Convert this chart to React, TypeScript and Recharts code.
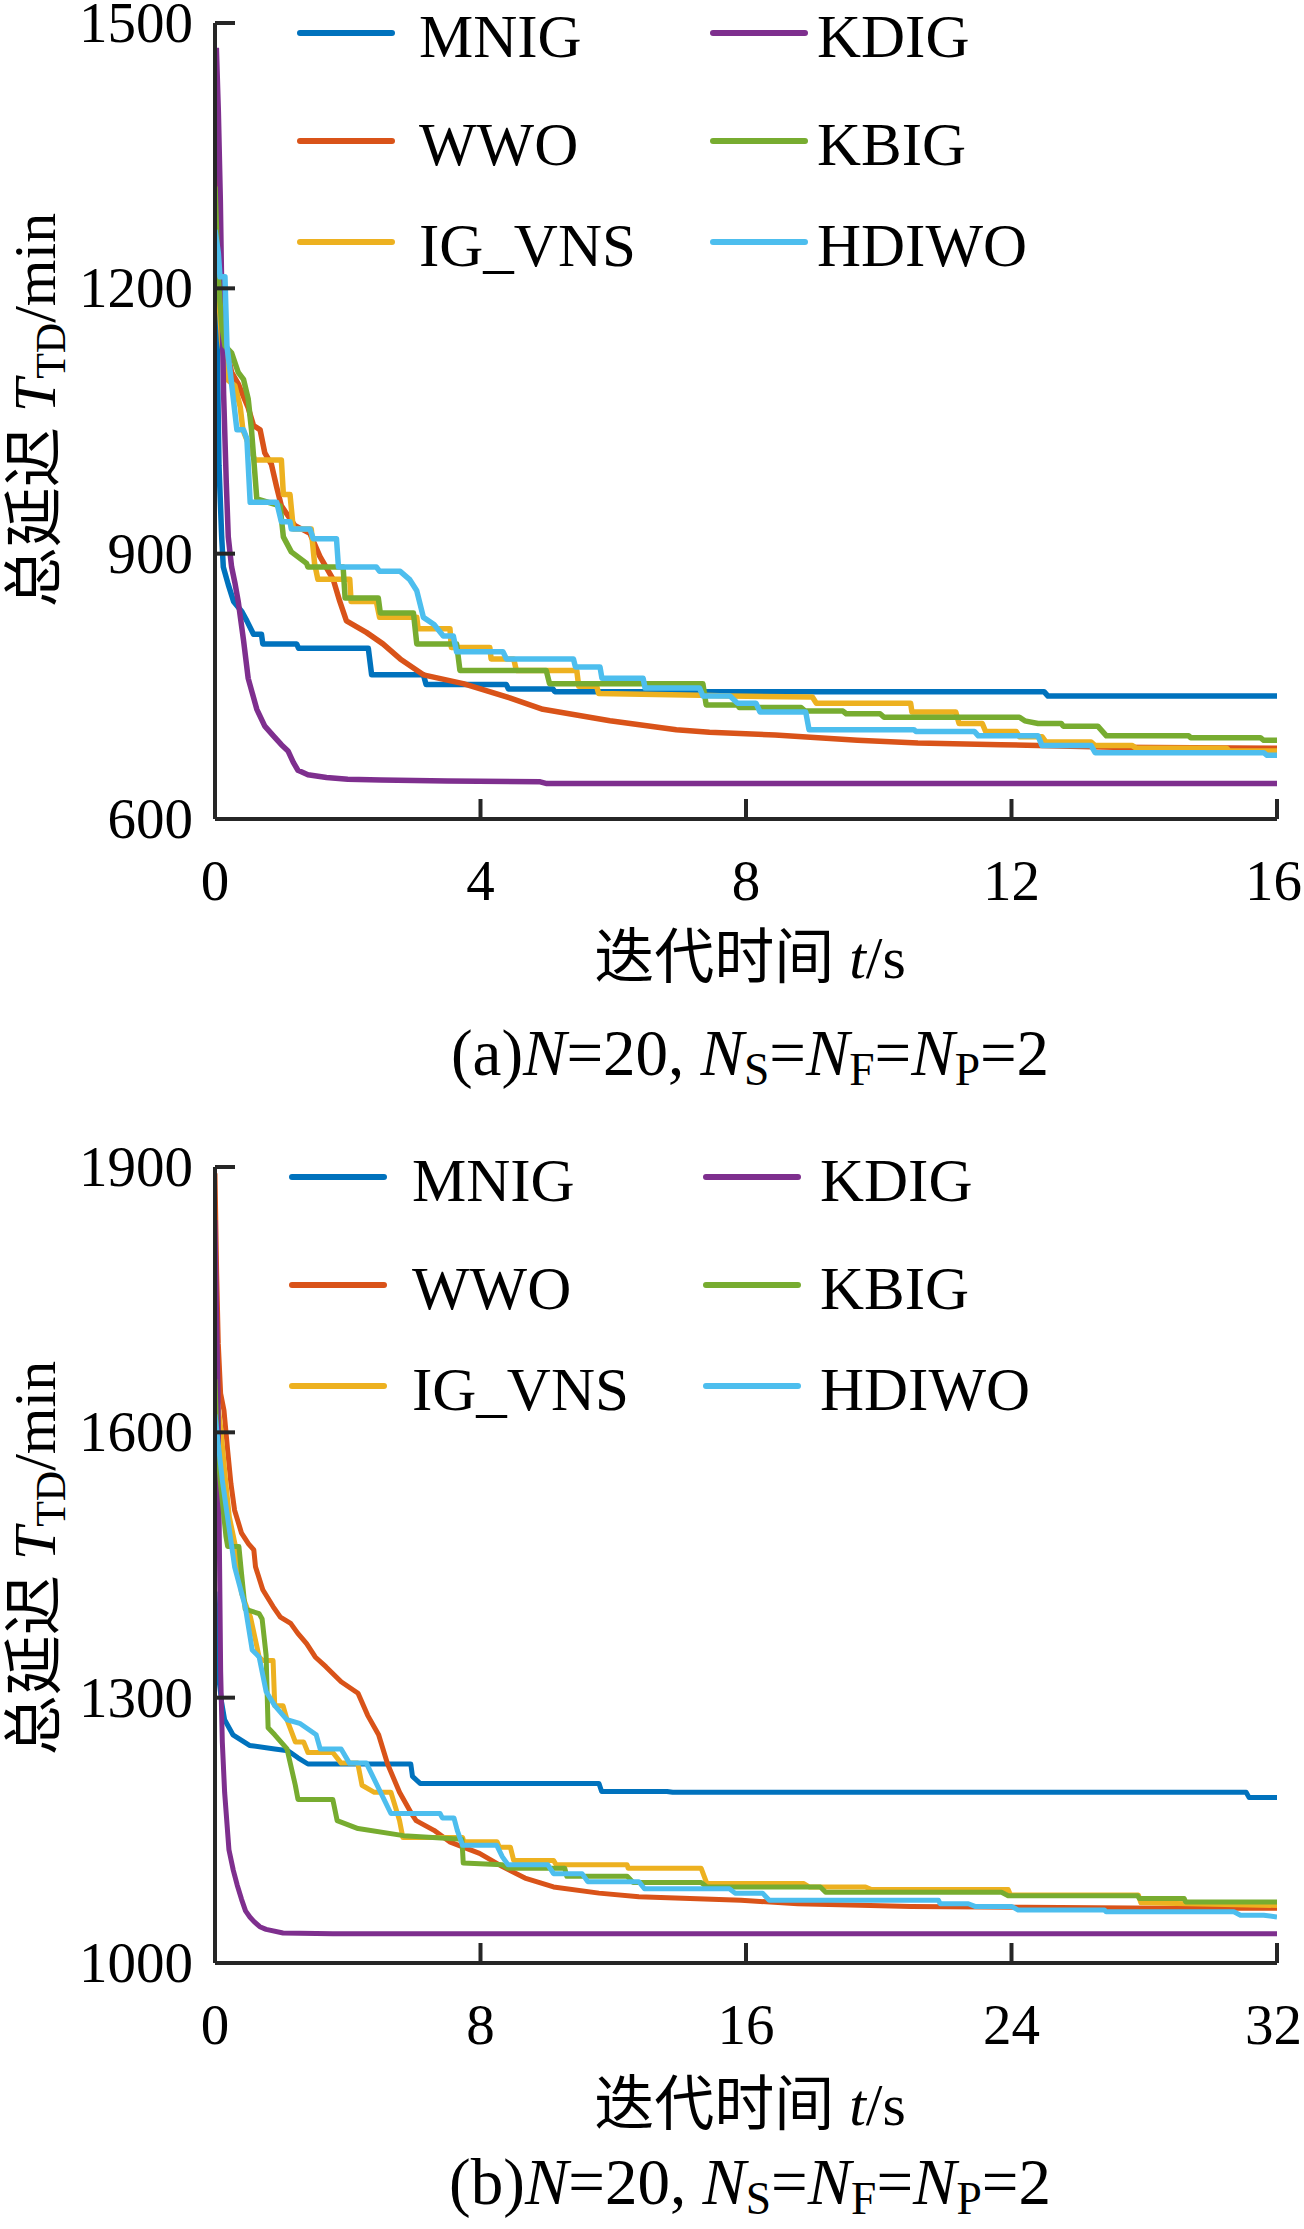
import React from "react";
import { LineChart, Line, XAxis, YAxis } from "recharts";

// ---- panel (a): N=20, 16 s ----
const X_TICKS_A = [0, 4, 8, 12, 16];
const Y_TICKS_A = [600, 900, 1200, 1500];

const MNIG_A: [number, number][] = [
  [0, 1260], [0.03, 1150], [0.06, 1000], [0.1, 920], [0.125, 885], [0.2, 865], [0.28, 846],
  [0.4, 835], [0.48, 824], [0.58, 809], [0.7, 809], [0.72, 798], [1.23, 798], [1.26, 793],
  [2.31, 793], [2.36, 763], [3.14, 763], [3.18, 752], [4.39, 752], [4.42, 747], [5.09, 747],
  [5.12, 744], [12.49, 744], [12.55, 739], [16, 739],
];
const WWO_A: [number, number][] = [
  [0, 1415], [0.03, 1320], [0.06, 1250], [0.1, 1190], [0.15, 1140], [0.25, 1105], [0.35, 1092],
  [0.5, 1065], [0.58, 1045], [0.68, 1040], [0.75, 1014], [0.85, 1001], [0.93, 975], [1.0, 954],
  [1.2, 932], [1.43, 923], [1.58, 897], [1.78, 871], [1.88, 846], [1.98, 824], [2.28, 811],
  [2.53, 798], [2.79, 781], [3.14, 763], [3.74, 753], [4.44, 737], [4.94, 724], [5.95, 711],
  [6.95, 701], [7.45, 698], [8.44, 695], [9.68, 689], [10.59, 686], [11.84, 684], [12.4, 683],
  [13.54, 681], [16, 680],
];
const IGVNS_A: [number, number][] = [
  [0, 1270], [0.05, 1200], [0.1, 1140], [0.18, 1097], [0.3, 1090], [0.38, 1066], [0.42, 1040],
  [0.6, 1006], [1.0, 1006], [1.03, 967], [1.13, 967], [1.18, 928], [1.45, 928], [1.5, 889],
  [1.55, 871], [2.03, 871], [2.05, 846], [2.43, 846], [2.48, 828], [3.04, 828], [3.06, 815],
  [3.54, 815], [3.56, 794], [4.14, 794], [4.16, 781], [4.5, 781], [4.54, 768], [5.45, 768],
  [5.48, 750], [5.75, 750], [5.78, 742], [7.3, 740], [7.76, 739], [9.0, 738], [9.06, 731],
  [10.48, 731], [10.5, 721], [11.16, 721], [11.21, 708], [11.56, 708], [11.61, 699], [12.07, 699],
  [12.12, 693], [12.46, 693], [12.52, 687], [13.2, 687], [13.26, 683], [13.82, 683], [13.88, 680],
  [15.24, 680], [15.28, 677], [16, 677],
];
const KDIG_A: [number, number][] = [
  [0.02, 1472], [0.05, 1400], [0.08, 1300], [0.1, 1200], [0.13, 1080], [0.17, 980], [0.2, 919],
  [0.25, 885], [0.3, 867], [0.35, 846], [0.43, 802], [0.5, 759], [0.63, 724], [0.75, 705],
  [0.88, 694], [1.0, 684], [1.1, 677], [1.18, 664], [1.25, 655], [1.4, 650], [1.68, 647],
  [2.0, 645], [2.5, 644], [3.5, 643], [4.9, 642], [5.0, 640], [16, 640],
];
const KBIG_A: [number, number][] = [
  [0, 1315], [0.03, 1250], [0.06, 1200], [0.1, 1160], [0.15, 1135], [0.25, 1127], [0.35, 1105],
  [0.43, 1097], [0.5, 1075], [0.55, 1040], [0.63, 962], [0.98, 954], [1.03, 919], [1.15, 902],
  [1.38, 889], [1.4, 885], [1.93, 885], [1.96, 850], [2.46, 850], [2.49, 833], [2.99, 833],
  [3.04, 798], [3.64, 798], [3.69, 768], [4.99, 768], [5.04, 753], [7.35, 753], [7.4, 729],
  [7.87, 729], [7.9, 726], [8.83, 726], [8.89, 722], [9.46, 722], [9.51, 719], [10.02, 719],
  [10.08, 715], [12.12, 715], [12.2, 711], [12.4, 708], [12.75, 708], [12.78, 705], [13.3, 705],
  [13.43, 694], [14.67, 694], [14.7, 692], [15.75, 692], [15.8, 689], [16, 689],
];
const HDIWO_A: [number, number][] = [
  [0, 1266], [0.05, 1240], [0.075, 1213], [0.15, 1213], [0.18, 1135], [0.23, 1105], [0.33, 1040],
  [0.43, 1040], [0.48, 1030], [0.53, 958], [0.93, 958], [1.0, 936], [1.13, 936], [1.15, 928],
  [1.43, 928], [1.48, 917], [1.83, 917], [1.86, 885], [2.43, 885], [2.48, 880], [2.79, 880],
  [2.93, 871], [3.04, 858], [3.14, 828], [3.3, 820], [3.44, 807], [3.59, 807], [3.64, 789],
  [4.34, 789], [4.39, 781], [5.4, 781], [5.43, 772], [5.8, 772], [5.83, 759], [6.45, 759],
  [6.48, 748], [7.3, 748], [7.35, 739], [7.76, 739], [7.87, 731], [8.15, 731], [8.21, 721],
  [8.9, 721], [8.95, 701], [10.53, 701], [10.56, 699], [11.44, 699], [11.5, 694], [12.4, 694],
  [12.46, 683], [13.2, 683], [13.26, 675], [15.8, 675], [15.85, 672], [16, 672],
];

// ---- panel (b): N=20, 32 s ----
const X_TICKS_B = [0, 8, 16, 24, 32];
const Y_TICKS_B = [1000, 1300, 1600, 1900];

const MNIG_B: [number, number][] = [
  [0, 1420], [0.05, 1373], [0.09, 1330], [0.2, 1295], [0.29, 1275], [0.54, 1258], [1.04, 1246],
  [1.8, 1242], [2.2, 1240], [2.5, 1232], [2.8, 1225], [5.9, 1225], [5.95, 1211], [6.18, 1203],
  [11.57, 1203], [11.65, 1194], [13.62, 1194], [13.79, 1193], [31.07, 1193], [31.16, 1187],
  [32, 1187],
];
const WWO_B: [number, number][] = [
  [0, 1893], [0.05, 1780], [0.1, 1700], [0.17, 1644], [0.27, 1625], [0.38, 1580], [0.48, 1542],
  [0.59, 1512], [0.8, 1486], [1.01, 1474], [1.17, 1467], [1.22, 1448], [1.44, 1422], [1.75, 1403],
  [1.97, 1391], [2.28, 1384], [2.49, 1373], [2.76, 1361], [3.02, 1346], [3.34, 1335], [3.8, 1318],
  [4.31, 1305], [4.6, 1280], [4.93, 1258], [5.2, 1225], [5.56, 1193], [5.92, 1169], [6.06, 1161],
  [6.6, 1150], [7.07, 1137], [7.97, 1124], [8.66, 1109], [9.34, 1096], [10.2, 1086], [11.57, 1079],
  [12.77, 1075], [15.85, 1071], [17.56, 1067], [20.98, 1064], [24.4, 1063], [28.68, 1062],
  [32, 1062],
];
const IGVNS_B: [number, number][] = [
  [0, 1697], [0.06, 1640], [0.17, 1606], [0.33, 1542], [0.43, 1505], [0.64, 1467], [0.8, 1418],
  [1.07, 1391], [1.33, 1346], [1.44, 1342], [1.75, 1342], [1.8, 1291], [2.05, 1291], [2.17, 1275],
  [2.42, 1250], [2.67, 1250], [2.8, 1238], [3.55, 1238], [3.8, 1226], [4.3, 1226], [4.43, 1201],
  [4.8, 1193], [5.3, 1193], [5.56, 1161], [5.66, 1142], [7.46, 1142], [7.5, 1137], [8.5, 1137],
  [8.57, 1131], [8.9, 1131], [9.0, 1116], [10.2, 1116], [10.28, 1111], [12.42, 1111],
  [12.45, 1107], [14.65, 1107], [14.82, 1090], [17.73, 1090], [17.9, 1086], [19.6, 1086],
  [19.78, 1083], [23.9, 1083], [23.97, 1077], [27.82, 1077], [27.9, 1068], [32, 1065],
];
const KDIG_B: [number, number][] = [
  [0, 1840], [0.04, 1750], [0.09, 1650], [0.13, 1480], [0.17, 1330], [0.22, 1250], [0.29, 1193],
  [0.42, 1128], [0.55, 1105], [0.67, 1088], [0.8, 1072], [0.92, 1059], [1.05, 1052], [1.17, 1047],
  [1.35, 1041], [1.54, 1038], [2.05, 1034], [3.55, 1033], [32, 1033],
];
const KBIG_B: [number, number][] = [
  [0, 1660], [0.06, 1587], [0.17, 1540], [0.33, 1482], [0.38, 1471], [0.72, 1471], [0.8, 1440],
  [0.91, 1400], [1.33, 1395], [1.42, 1389], [1.54, 1348], [1.6, 1266], [1.8, 1258], [2.17, 1242],
  [2.42, 1201], [2.5, 1185], [3.55, 1185], [3.68, 1161], [4.31, 1152], [5.68, 1144], [7.44, 1140],
  [7.48, 1113], [8.66, 1111], [8.83, 1107], [10.54, 1107], [10.6, 1098], [12.42, 1098],
  [12.6, 1091], [14.65, 1091], [14.82, 1086], [18.24, 1086], [18.4, 1080], [23.7, 1080],
  [23.9, 1076], [27.8, 1076], [27.85, 1073], [29.2, 1073], [29.25, 1069], [32, 1069],
];
const HDIWO_B: [number, number][] = [
  [0, 1620], [0.22, 1546], [0.59, 1448], [0.91, 1403], [1.12, 1354], [1.33, 1346], [1.54, 1307],
  [1.8, 1291], [2.17, 1275], [2.55, 1271], [3.05, 1258], [3.17, 1242], [3.8, 1242], [4.05, 1226],
  [4.56, 1226], [5.3, 1169], [6.78, 1169], [6.85, 1164], [7.2, 1164], [7.3, 1150], [7.46, 1133],
  [8.49, 1133], [8.66, 1120], [8.83, 1111], [10.03, 1111], [10.2, 1101], [11.06, 1101],
  [11.23, 1092], [12.77, 1092], [12.94, 1084], [15.5, 1084], [15.67, 1079], [16.5, 1079],
  [16.7, 1071], [21.8, 1071], [21.85, 1067], [22.7, 1067], [22.9, 1064], [24.0, 1064],
  [24.2, 1060], [26.8, 1060], [26.85, 1058], [30.7, 1058], [30.9, 1054], [31.6, 1054], [32, 1052],
];

const COLORS: Record<string, string> = {
  MNIG: "#0072BD",
  WWO: "#D95319",
  IG_VNS: "#EDB120",
  KDIG: "#7E2F8E",
  KBIG: "#77AC30",
  HDIWO: "#4DBEEE",
};
const LEGEND_COL1 = ["MNIG", "WWO", "IG_VNS"];
const LEGEND_COL2 = ["KDIG", "KBIG", "HDIWO"];

const SERIF = '"Liberation Serif", "Times New Roman", serif';
const CJK = '"Liberation Serif", "Noto Sans CJK SC", serif';
const AXIS = "#262626";
const TICK_FONT = 57;
const PAD = 20; // extra room above each plot so the top tick label is not clipped by the svg

const toPts = (arr: [number, number][]) => arr.map(([t, v]) => ({ t, v }));

const XTick = (props: any) => {
  const { x, y, payload } = props;
  const label = String(payload.value);
  const half = label.length * TICK_FONT * 0.25;
  // keep the right-most label inside the page
  const tx = x + half > 1302 ? 1302 - half : x;
  return (
    <g>
      <line x1={x} x2={x} y1={y} y2={y - 20} stroke={AXIS} strokeWidth={4} />
      <text x={tx} y={y + 81} textAnchor="middle" fontSize={TICK_FONT} fontFamily={SERIF} fill="#000">
        {label}
      </text>
    </g>
  );
};

const YTick = (props: any) => {
  const { x, y, payload } = props;
  return (
    <g>
      <line x1={x} x2={x + 20} y1={y} y2={y} stroke={AXIS} strokeWidth={4} />
      <text x={x - 22} y={y + 19} textAnchor="end" fontSize={TICK_FONT} fontFamily={SERIF} fill="#000">
        {payload.value}
      </text>
    </g>
  );
};

interface PanelProps {
  top: number;
  xMax: number;
  xTicks: number[];
  yDomain: [number, number];
  yTicks: number[];
  series: { name: string; pts: [number, number][] }[];
  lineWidth: number;
  legendX: [number, number, number, number]; // line start col1, text col1, line start col2, text col2
  xLabelY: number;
  captionY: number;
  yLabelY: number;
  tag: string;
}

const Sub = ({ children }: { children: React.ReactNode }) => (
  <span style={{ fontSize: "0.7em", lineHeight: 0, position: "relative", top: "0.24em" }}>{children}</span>
);

const Panel = ({ top, xMax, xTicks, yDomain, yTicks, series, lineWidth, legendX, xLabelY, captionY, yLabelY, tag }: PanelProps) => {
  const rows = [33, 141, 242];
  return (
    <>
      <div style={{ position: "absolute", left: 0, top: top - PAD }}>
        <LineChart width={1304} height={1000 + PAD} margin={{ top: 23 + PAD, right: 27, left: 0, bottom: 81 }}>
          <XAxis
            dataKey="t"
            type="number"
            domain={[0, xMax]}
            ticks={xTicks}
            interval={0}
            allowDataOverflow
            height={100}
            axisLine={{ stroke: AXIS, strokeWidth: 4 }}
            tickLine={false}
            tickSize={0}
            tickMargin={0}
            tick={<XTick />}
          />
          <YAxis
            type="number"
            domain={yDomain}
            ticks={yTicks}
            interval={0}
            allowDataOverflow
            width={215}
            axisLine={{ stroke: AXIS, strokeWidth: 4 }}
            tickLine={false}
            tickSize={0}
            tickMargin={0}
            tick={<YTick />}
          />
          {series.map((s) => (
            <Line
              key={s.name}
              data={toPts(s.pts)}
              dataKey="v"
              type="linear"
              dot={false}
              activeDot={false}
              stroke={COLORS[s.name]}
              strokeWidth={lineWidth}
              strokeLinejoin="round"
              isAnimationActive={false}
            />
          ))}
        </LineChart>
      </div>

      {/* legend, two columns */}
      {[LEGEND_COL1, LEGEND_COL2].map((col, ci) =>
        col.map((name, ri) => (
          <div key={name + tag}>
            <div
              style={{
                position: "absolute",
                left: legendX[ci * 2],
                top: top + rows[ri] - 3,
                width: 98,
                height: 6,
                borderRadius: 3,
                background: COLORS[name],
              }}
            />
            <div
              style={{
                position: "absolute",
                left: legendX[ci * 2 + 1],
                top: top + rows[ri] + 4 - 31,
                fontSize: 61,
                lineHeight: 1,
                fontFamily: SERIF,
                whiteSpace: "nowrap",
              }}
            >
              {name}
            </div>
          </div>
        ))
      )}

      {/* y label */}
      <div
        style={{
          position: "absolute",
          left: 35,
          top: yLabelY,
          transform: "translate(-50%, -50%) rotate(-90deg)",
          fontSize: 60,
          lineHeight: 1,
          height: 60,
          fontFamily: CJK,
          whiteSpace: "nowrap",
        }}
      >
        总延迟 <i>T</i>
        <Sub>TD</Sub>/min
      </div>

      {/* x label */}
      <div
        style={{
          position: "absolute",
          left: 350,
          width: 800,
          top: xLabelY - 35,
          height: 70,
          display: "flex",
          alignItems: "center",
          justifyContent: "center",
          fontSize: 60,
          lineHeight: 1,
          fontFamily: CJK,
          whiteSpace: "nowrap",
        }}
      >
        迭代时间&nbsp;<i>t</i>/s
      </div>

      {/* caption */}
      <div
        style={{
          position: "absolute",
          left: 350,
          width: 800,
          top: captionY - 32,
          height: 64,
          display: "flex",
          alignItems: "center",
          justifyContent: "center",
          fontSize: 65,
          lineHeight: 1,
          fontFamily: SERIF,
          whiteSpace: "nowrap",
        }}
      >
        <span>
          ({tag})<i>N</i>=20, <i>N</i>
          <Sub>S</Sub>=<i>N</i>
          <Sub>F</Sub>=<i>N</i>
          <Sub>P</Sub>=2
        </span>
      </div>
    </>
  );
};

export default function App() {
  return (
    <div style={{ position: "absolute", left: 0, top: 0, width: 1304, height: 2229, background: "#fff", overflow: "hidden" }}>
      <Panel
        top={0}
        xMax={16}
        xTicks={X_TICKS_A}
        yDomain={[600, 1500]}
        yTicks={Y_TICKS_A}
        series={[
          { name: "MNIG", pts: MNIG_A },
          { name: "WWO", pts: WWO_A },
          { name: "IG_VNS", pts: IGVNS_A },
          { name: "KDIG", pts: KDIG_A },
          { name: "KBIG", pts: KBIG_A },
          { name: "HDIWO", pts: HDIWO_A },
        ]}
        lineWidth={5.5}
        legendX={[297, 419, 710, 817]}
        xLabelY={958}
        captionY={1053}
        yLabelY={410}
        tag="a"
      />
      <Panel
        top={1144}
        xMax={32}
        xTicks={X_TICKS_B}
        yDomain={[1000, 1900]}
        yTicks={Y_TICKS_B}
        series={[
          { name: "MNIG", pts: MNIG_B },
          { name: "WWO", pts: WWO_B },
          { name: "IG_VNS", pts: IGVNS_B },
          { name: "KDIG", pts: KDIG_B },
          { name: "KBIG", pts: KBIG_B },
          { name: "HDIWO", pts: HDIWO_B },
        ]}
        lineWidth={5}
        legendX={[289, 412, 703, 820]}
        xLabelY={2105}
        captionY={2182}
        yLabelY={1558}
        tag="b"
      />
    </div>
  );
}
